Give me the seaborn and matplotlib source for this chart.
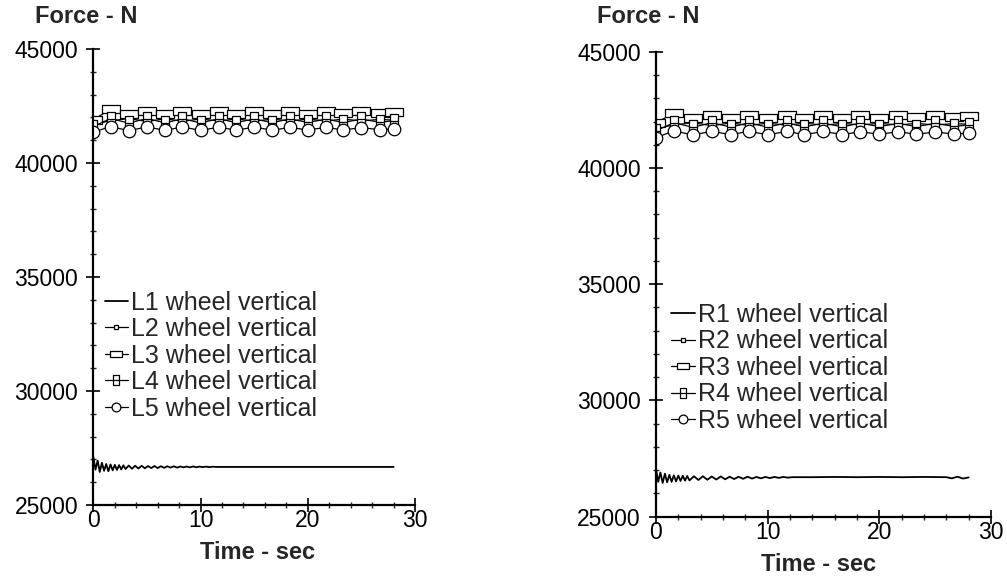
import numpy as np
import matplotlib
matplotlib.use("Agg")
import matplotlib.pyplot as plt
from matplotlib.path import Path
from matplotlib.ticker import MultipleLocator
import seaborn as sns

# ---- data ----
# wheel 1 (damped oscillation, then flat)
t_w1_left = [0.0, 0.2, 0.4, 0.6, 0.8, 1.0, 1.2, 1.4, 1.6, 1.8, 2.0, 2.2, 2.4, 2.6, 2.8, 3.0,
             3.3, 3.6, 3.9, 4.2, 4.5, 4.8, 5.1, 5.4, 5.7, 6.0, 6.3, 6.6, 6.9, 7.2, 7.5, 7.8,
             8.1, 8.4, 8.7, 9.0, 9.3, 9.6, 9.9, 10.2, 10.5, 10.8, 11.1, 11.4, 11.8, 28.0]
f_w1_left = [27100, 26550, 26950, 26450, 26850, 26500, 26800, 26480, 26780, 26520, 26760, 26540, 26750, 26560, 26740, 26580,
             26730, 26590, 26720, 26600, 26720, 26610, 26710, 26620, 26710, 26620, 26700, 26630, 26700, 26640, 26700, 26640,
             26690, 26650, 26690, 26650, 26690, 26655, 26685, 26660, 26685, 26660, 26680, 26670, 26670, 26670]

t_w1_right = [0.0, 0.2, 0.4, 0.6, 0.8, 1.0, 1.2, 1.4, 1.6, 1.8, 2.0, 2.2, 2.4, 2.6, 2.8, 3.0,
              3.4, 3.8, 4.2, 4.6, 5.0, 5.4, 5.8, 6.2, 6.6, 7.0, 7.4, 7.8, 8.2, 8.6, 9.0, 9.4,
              9.8, 10.2, 10.6, 11.0, 11.4, 11.8, 12.2, 14.0, 16.0, 18.0, 20.0, 22.0, 24.0, 26.0,
              26.5, 27.0, 27.5, 28.0]
f_w1_right = [27050, 26500, 26900, 26450, 26850, 26480, 26800, 26500, 26780, 26520, 26770, 26540, 26760, 26550, 26750, 26560,
              26740, 26580, 26740, 26590, 26730, 26600, 26730, 26610, 26720, 26620, 26720, 26630, 26720, 26640, 26710, 26650,
              26710, 26660, 26710, 26670, 26710, 26680, 26700, 26700, 26710, 26700, 26710, 26700, 26710, 26700,
              26650, 26720, 26640, 26690]

# wheels 2-5 (marker series near 42000 N)
t_mk = [0.0, 1.6, 3.3, 5.0, 6.7, 8.3, 10.0, 11.7, 13.3, 15.0, 16.7, 18.3, 20.0, 21.7, 23.3, 25.0, 26.7, 28.0]

f_w2_left = [41700, 41850, 41950, 41820, 41940, 41830, 41930, 41840, 41930, 41840, 41920, 41850, 41920, 41850, 41920, 41850, 41910, 41880]
f_w3_left = [41900, 42350, 42150, 42300, 42150, 42300, 42160, 42290, 42160, 42290, 42170, 42280, 42170, 42280, 42180, 42270, 42180, 42230]
f_w4_left = [41600, 41950, 41750, 41950, 41760, 41940, 41760, 41940, 41770, 41930, 41770, 41930, 41780, 41920, 41780, 41920, 41790, 41850]
f_w5_left = [41350, 41600, 41420, 41580, 41430, 41580, 41430, 41570, 41440, 41570, 41440, 41560, 41450, 41560, 41450, 41550, 41460, 41500]

f_w2_right = [41700, 41850, 41950, 41820, 41940, 41830, 41930, 41840, 41930, 41840, 41920, 41850, 41920, 41850, 41920, 41850, 41910, 41880]
f_w3_right = [41950, 42350, 42150, 42300, 42150, 42300, 42160, 42290, 42160, 42290, 42170, 42280, 42170, 42280, 42180, 42270, 42180, 42230]
f_w4_right = [41600, 41950, 41750, 41950, 41760, 41940, 41760, 41940, 41770, 41930, 41770, 41930, 41780, 41920, 41780, 41920, 41790, 41850]
f_w5_right = [41300, 41600, 41420, 41580, 41430, 41580, 41430, 41570, 41440, 41570, 41440, 41560, 41450, 41560, 41450, 41550, 41460, 41500]

labels_left = ["L1 wheel vertical", "L2 wheel vertical", "L3 wheel vertical", "L4 wheel vertical", "L5 wheel vertical"]
labels_right = ["R1 wheel vertical", "R2 wheel vertical", "R3 wheel vertical", "R4 wheel vertical", "R5 wheel vertical"]

# ---- marker shapes ----
wide_rect = Path([(-1, -0.45), (1, -0.45), (1, 0.45), (-1, 0.45), (-1, -0.45)],
                 [Path.MOVETO, Path.LINETO, Path.LINETO, Path.LINETO, Path.CLOSEPOLY])
tall_rect = Path([(-0.6, -1), (0.6, -1), (0.6, 1), (-0.6, 1), (-0.6, -1), (-0.6, 0), (0.6, 0)],
                 [Path.MOVETO, Path.LINETO, Path.LINETO, Path.LINETO, Path.CLOSEPOLY, Path.MOVETO, Path.LINETO])

styles = [
    dict(marker=None),
    dict(marker="s", ms=4),
    dict(marker=wide_rect, ms=12.5),
    dict(marker=tall_rect, ms=10),
    dict(marker="o", ms=9),
]

sns.set_style("ticks")
plt.rcParams["font.family"] = ["Liberation Sans", "DejaVu Sans"]

fig = plt.figure(figsize=(10.07, 5.79), dpi=100)
ax_l = fig.add_axes([0.0927, 0.1278, 0.3195, 0.7876])
ax_r = fig.add_axes([0.6514, 0.1076, 0.3327, 0.8030])


def draw_panel(ax, t_w1, f_w1, series, labels, legend_anchor):
    sns.lineplot(x=t_w1, y=f_w1, ax=ax, color="black", lw=1.3, label=labels[0], estimator=None, sort=False)
    for f, st, lab in zip(series, styles[1:], labels[1:]):
        sns.lineplot(x=t_mk, y=f, ax=ax, color="black", lw=0.9, label=lab, estimator=None, sort=False,
                     mfc="white", mec="black", mew=0.9, **st)
    ax.set_xlim(0, 30)
    ax.set_ylim(25000, 45000)
    ax.xaxis.set_major_locator(MultipleLocator(10))
    ax.xaxis.set_minor_locator(MultipleLocator(2))
    ax.yaxis.set_major_locator(MultipleLocator(5000))
    ax.yaxis.set_minor_locator(MultipleLocator(1000))
    ax.tick_params(which="major", direction="inout", length=10, width=1.2, labelsize=16.5, colors="black")
    ax.tick_params(axis="y", which="major", pad=6)
    ax.tick_params(axis="x", which="major", pad=-2)
    ax.tick_params(which="minor", direction="inout", length=5, width=1.0)
    ax.set_xlabel("")
    ax.set_ylabel("")
    for s in ("left", "bottom"):
        ax.spines[s].set_linewidth(1.6)
        ax.spines[s].set_color("black")
    sns.despine(ax=ax)
    ax.legend(loc="upper left", bbox_to_anchor=legend_anchor, frameon=False, fontsize=18,
              handlelength=0.95, handletextpad=0.12, labelspacing=0.1, borderaxespad=0, borderpad=0,
              markerscale=0.7)


draw_panel(ax_l, t_w1_left, f_w1_left, [f_w2_left, f_w3_left, f_w4_left, f_w5_left], labels_left, (0.035, 0.47))
draw_panel(ax_r, t_w1_right, f_w1_right, [f_w2_right, f_w3_right, f_w4_right, f_w5_right], labels_right, (0.045, 0.46))

fig.text(0.035, 0.972, "Force - N", fontsize=17, fontweight="bold", va="center", ha="left")
fig.text(0.593, 0.972, "Force - N", fontsize=17, fontweight="bold", va="center", ha="left")
fig.text(0.256, 0.045, "Time - sec", fontsize=17, fontweight="bold", va="center", ha="center")
fig.text(0.813, 0.025, "Time - sec", fontsize=17, fontweight="bold", va="center", ha="center")

fig.savefig("out.png", dpi=100, facecolor="white")
